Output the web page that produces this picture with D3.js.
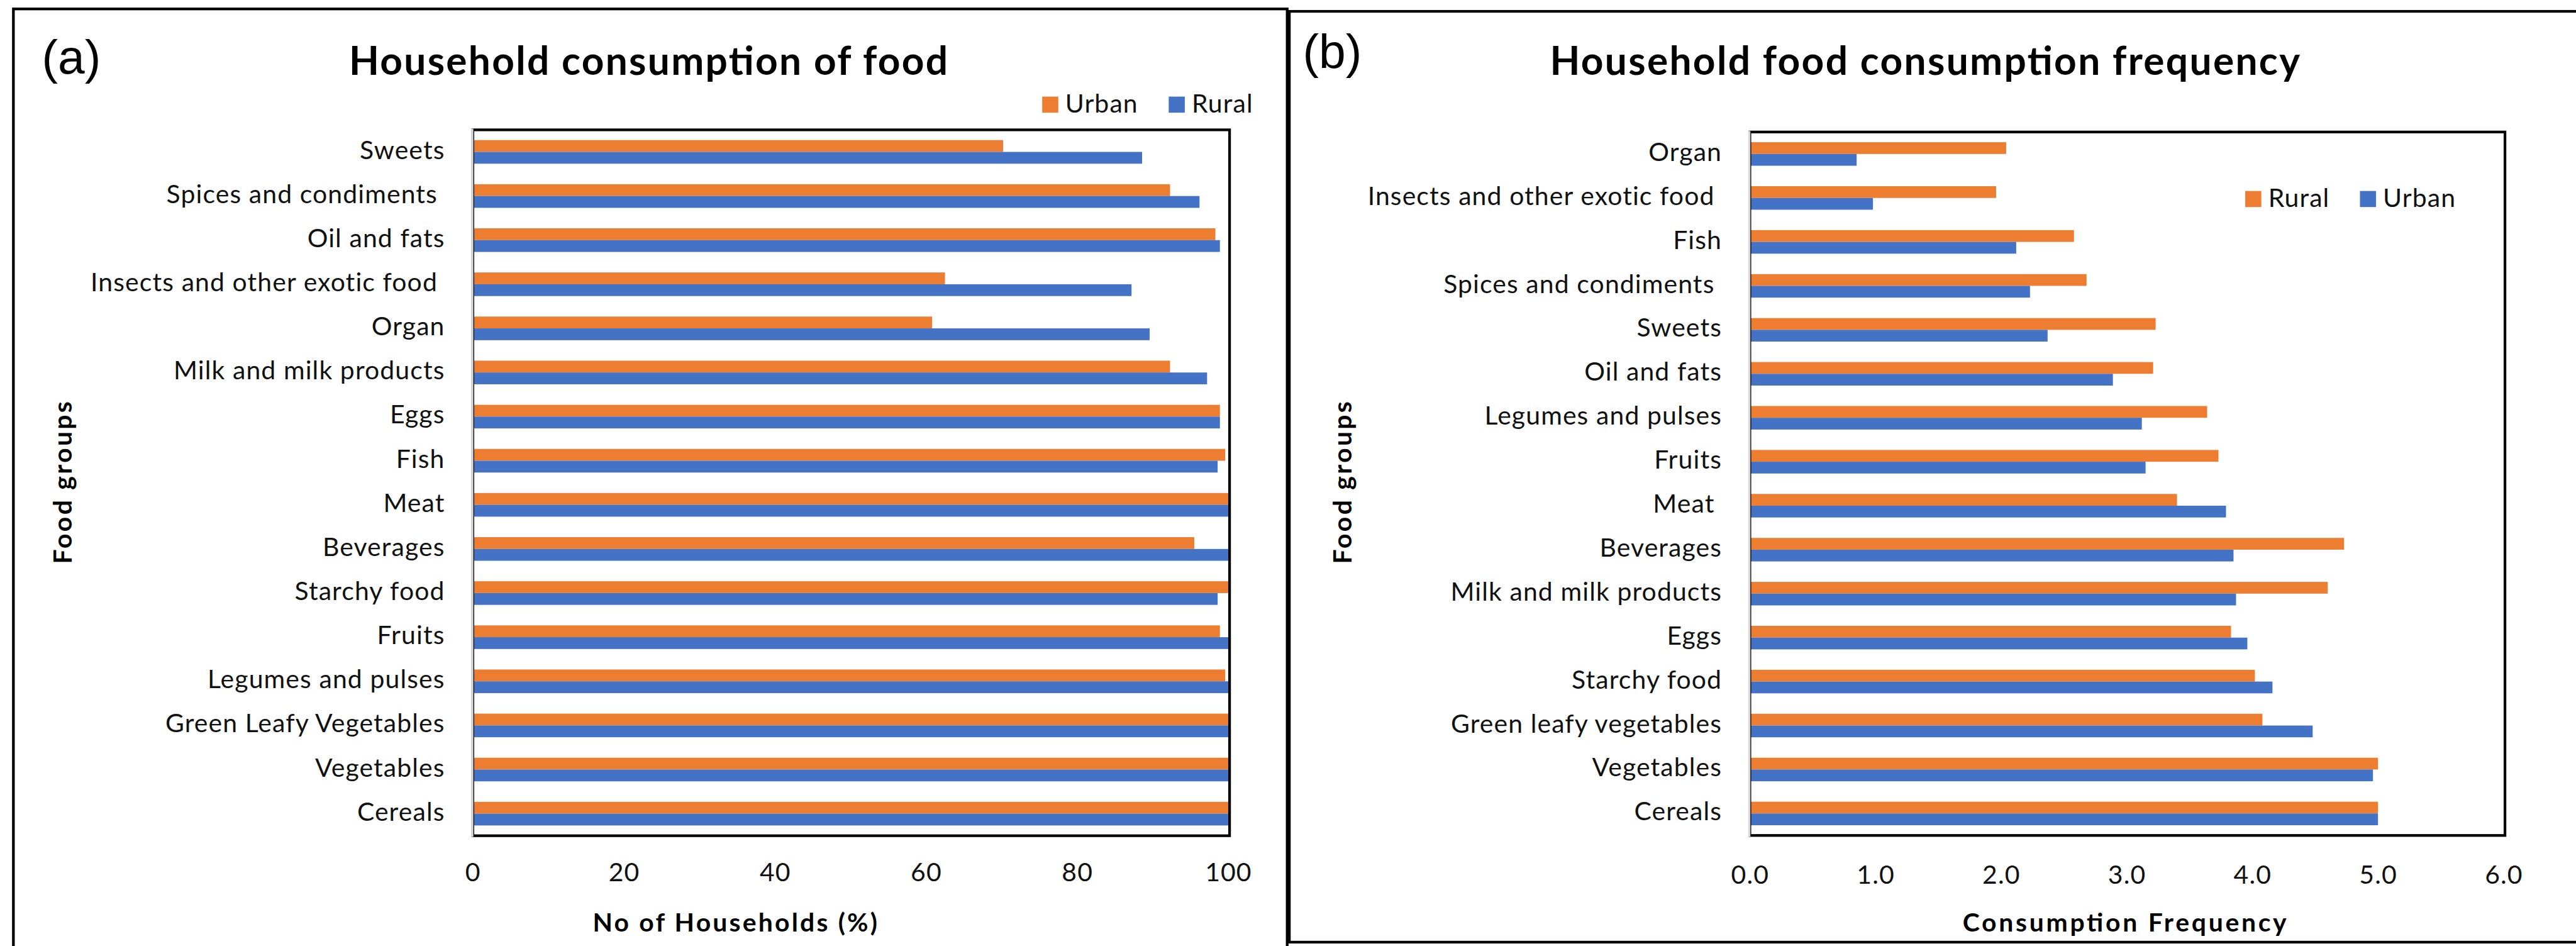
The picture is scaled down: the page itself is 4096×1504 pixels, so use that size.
<!DOCTYPE html>
<html>
<head>
<meta charset="utf-8">
<script src="https://cdn.jsdelivr.net/npm/d3@7/dist/d3.min.js"></script>
<style>
  html, body { margin: 0; padding: 0; background: #fff; }
  svg text { white-space: pre; }
</style>
</head>
<body>
<div id="chart"></div>
<script>
// panel (a) - household consumption of food (% of households)
const catsA = [
  "Sweets", "Spices and condiments ", "Oil and fats", "Insects and other exotic food ",
  "Organ", "Milk and milk products", "Eggs", "Fish", "Meat", "Beverages",
  "Starchy food", "Fruits", "Legumes and pulses", "Green Leafy Vegetables",
  "Vegetables", "Cereals"
];
const urbanA = [70.2, 92.3, 98.3, 62.5, 60.8, 92.3, 98.9, 99.6, 100, 95.5, 100, 98.9, 99.6, 100, 100, 100];
const ruralA = [88.6, 96.2, 98.9, 87.2, 89.6, 97.2, 98.9, 98.6, 100, 100, 98.6, 100, 100, 100, 100, 100];
const ticksA = [0, 20, 40, 60, 80, 100];

// panel (b) - household food consumption frequency
const catsB = [
  "Organ", "Insects and other exotic food ", "Fish", "Spices and condiments ",
  "Sweets", "Oil and fats", "Legumes and pulses", "Fruits", "Meat ", "Beverages",
  "Milk and milk products", "Eggs", "Starchy food", "Green leafy vegetables",
  "Vegetables", "Cereals"
];
const ruralB = [2.04, 1.96, 2.58, 2.68, 3.23, 3.21, 3.64, 3.73, 3.40, 4.73, 4.60, 3.83, 4.02, 4.08, 5.00, 5.00];
const urbanB = [0.85, 0.98, 2.12, 2.23, 2.37, 2.89, 3.12, 3.15, 3.79, 3.85, 3.87, 3.96, 4.16, 4.48, 4.96, 5.00];
const ticksB = [0, 1, 2, 3, 4, 5, 6];

const ORANGE = "#ED7D31";
const BLUE = "#4472C4";
const FONT = "Lato, 'Open Sans', sans-serif";

// work in the reference's own pixel space, the viewBox scales it down to the window
const W = 4805, H = 1764;
const svg = d3
  .select("#chart")
  .append("svg")
  .attr("width", 4096)
  .attr("height", 1504)
  .attr("viewBox", `0 0 ${W} ${H}`)
  .style("display", "block");

svg.append("rect").attr("width", W).attr("height", H).attr("fill", "#fff");

// outer frames of the two panels
svg.append("rect")
  .attr("x", 25).attr("y", 16.5).attr("width", 2376).attr("height", 1760)
  .attr("fill", "none").attr("stroke", "#000").attr("stroke-width", 5);
svg.append("rect")
  .attr("x", 2405).attr("y", 21).attr("width", 2410).attr("height", 1736)
  .attr("fill", "none").attr("stroke", "#000").attr("stroke-width", 5);

const smallText = (sel, size) =>
  sel
    .attr("font-family", FONT)
    .attr("font-size", size)
    .attr("letter-spacing", 1.3)
    .attr("fill", "#111");

const drawPanel = (cfg) => {
  const g = svg.append("g");

  const x = d3.scaleLinear().domain(cfg.domain).range([cfg.left, cfg.right]);
  const y = d3
    .scaleBand()
    .domain(cfg.cats)
    .range([cfg.top, cfg.bottom])
    .paddingInner(0.465)
    .paddingOuter(0.2325);
  const sub = d3.scaleBand().domain([0, 1]).range([0, y.bandwidth()]);

  const rows = cfg.cats.map((c, i) => ({ cat: c, vals: [cfg.s1[i], cfg.s2[i]] }));

  // bars, first series (orange) on top of each pair
  g.selectAll(".row")
    .data(rows)
    .join("g")
    .attr("class", "row")
    .attr("transform", (d) => `translate(0,${y(d.cat)})`)
    .selectAll("rect")
    .data((d) => d.vals)
    .join("rect")
    .attr("x", x(0))
    .attr("y", (_, i) => sub(i))
    .attr("width", (d) => x(d) - x(0))
    .attr("height", sub.bandwidth())
    .attr("fill", (_, i) => (i === 0 ? ORANGE : BLUE));

  // plot area frame + light grey category axis
  g.append("rect")
    .attr("x", cfg.left)
    .attr("y", cfg.top)
    .attr("width", cfg.frameRight - cfg.left)
    .attr("height", cfg.bottom - cfg.top)
    .attr("fill", "none")
    .attr("stroke", "#000")
    .attr("stroke-width", 5);
  g.append("line")
    .attr("x1", cfg.left - 1).attr("x2", cfg.left - 1)
    .attr("y1", cfg.top - 2).attr("y2", cfg.bottom + 2)
    .attr("stroke", "#d9d9d9")
    .attr("stroke-width", 4);

  // category labels
  g.selectAll(".cat")
    .data(cfg.cats)
    .join("text")
    .attr("class", "cat")
    .attr("x", cfg.left - 52)
    .attr("y", (d) => y(d) + y.bandwidth() / 2 + 13)
    .attr("text-anchor", "end")
    .call(smallText, 48)
    .text((d) => d);

  // value axis labels
  const axis = d3.axisBottom(x).tickValues(cfg.ticks).tickFormat(cfg.fmt).tickSize(0).tickPadding(0);
  const ax = g.append("g").attr("transform", `translate(0,${cfg.tickY})`).call(axis);
  ax.select(".domain").remove();
  ax.selectAll("text").attr("dy", 0).call(smallText, 48);

  // x axis title
  g.append("text")
    .attr("x", cfg.xTitle.x)
    .attr("y", 1737)
    .attr("text-anchor", "middle")
    .attr("font-family", FONT)
    .attr("font-weight", "bold")
    .attr("font-size", 48)
    .attr("textLength", cfg.xTitle.len)
    .attr("lengthAdjust", "spacing")
    .text(cfg.xTitle.text);

  // y axis title
  g.append("text")
    .attr("transform", `translate(${cfg.yTitleX},900) rotate(-90)`)
    .attr("text-anchor", "middle")
    .attr("font-family", FONT)
    .attr("font-weight", "bold")
    .attr("font-size", 48)
    .attr("textLength", 303)
    .attr("lengthAdjust", "spacing")
    .text("Food groups");

  // chart title
  g.append("text")
    .attr("x", cfg.title.x)
    .attr("y", 140)
    .attr("font-family", FONT)
    .attr("font-weight", "bold")
    .attr("font-size", 73)
    .attr("textLength", cfg.title.len)
    .attr("lengthAdjust", "spacing")
    .text(cfg.title.text);

  // panel letter
  g.append("text")
    .attr("x", cfg.letter.x)
    .attr("y", cfg.letter.y)
    .attr("font-family", "'Liberation Sans', Arial, sans-serif")
    .attr("font-size", 90)
    .text(cfg.letter.text);

  // legend
  const lg = g.selectAll(".leg")
    .data(cfg.legend)
    .join("g")
    .attr("class", "leg")
    .attr("transform", (d) => `translate(${d.x},${cfg.legendY})`);
  lg.append("rect")
    .attr("width", 30).attr("height", 30)
    .attr("fill", (d) => d.color);
  lg.append("text")
    .attr("x", 43)
    .attr("y", 30)
    .call(smallText, 48)
    .text((d) => d.name);
};

drawPanel({
  cats: catsA, s1: urbanA, s2: ruralA,
  domain: [0, 100], ticks: ticksA, fmt: d3.format("d"),
  left: 882, right: 2291, frameRight: 2293.5, top: 242, bottom: 1558.5,
  tickY: 1643,
  xTitle: { x: 1371, len: 531, text: "No of Households (%)" },
  yTitleX: 134,
  title: { x: 651, len: 1117, text: "Household consumption of food" },
  letter: { x: 78, y: 137, text: "(a)" },
  legendY: 180,
  legend: [
    { name: "Urban", color: ORANGE, x: 1944 },
    { name: "Rural", color: BLUE, x: 2180 }
  ]
});

drawPanel({
  cats: catsB, s1: ruralB, s2: urbanB,
  domain: [0, 6], ticks: ticksB, fmt: d3.format(".1f"),
  left: 3264, right: 4670, frameRight: 4672.5, top: 246, bottom: 1558,
  tickY: 1648,
  xTitle: { x: 3963, len: 604, text: "Consumption Frequency" },
  yTitleX: 2521,
  title: { x: 2891, len: 1399, text: "Household food consumption frequency" },
  letter: { x: 2430, y: 127, text: "(b)" },
  legendY: 356,
  legend: [
    { name: "Rural", color: ORANGE, x: 4188 },
    { name: "Urban", color: BLUE, x: 4402 }
  ]
});
</script>
</body>
</html>
